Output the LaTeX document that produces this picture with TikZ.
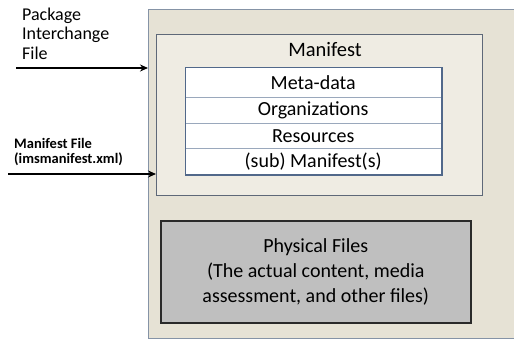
\documentclass[tikz,border=0pt]{standalone}
\usepackage{fontspec}
\setmainfont{Carlito}
\usetikzlibrary{arrows.meta}
\definecolor{pkgfill}{HTML}{E6E2D5}
\definecolor{pkgedge}{HTML}{8593A6}
\definecolor{manfill}{HTML}{EFECE3}
\definecolor{manedge}{HTML}{5E6878}
\definecolor{tabedge}{HTML}{51688A}
\definecolor{tabrule}{HTML}{9AA8BC}
\definecolor{physfill}{HTML}{BFBFBF}
\definecolor{physedge}{HTML}{2A2A2A}
\tikzset{
  box/.style={draw, rectangle, anchor=north west, inner sep=0pt},
  cell/.style={rectangle, anchor=north west, inner sep=0pt, minimum width=256pt, font=\fontsize{20}{22}\selectfont},
  feed/.style={draw=black, line width=1.8pt, -{Stealth[length=8pt,width=7pt]}},
  lbl/.style={anchor=base west, inner sep=0pt, align=left}
}
\begin{document}
\begin{tikzpicture}[x=1pt,y=-1pt]
\useasboundingbox (0,0) rectangle (514,341);
% package interchange container
\node[box, fill=pkgfill, draw=pkgedge, line width=1pt, minimum width=372pt, minimum height=329pt] (pkg) at (148,9) {};
% manifest container
\node[box, fill=manfill, draw=manedge, line width=1pt, minimum width=326pt, minimum height=161pt] (man) at (156,34) {};
\node[font=\fontsize{20.5}{22}\selectfont] (mantitle) at (325,50) {Manifest};
% manifest sections
\node[box, fill=white, draw=tabedge, line width=1pt, minimum width=256pt, minimum height=107pt] (tab) at (185,67) {};
\node[cell, minimum height=30pt] (meta) at (185,67) {Meta-data};
\node[cell, minimum height=26pt] (org) at (185,97) {Organizations};
\node[cell, minimum height=25pt] (res) at (185,123) {Resources};
\node[cell, minimum height=26pt] (sub) at (185,148) {(sub) Manifest(s)};
\draw[tabrule, line width=0.8pt] (meta.south west) -- (meta.south east);
\draw[tabrule, line width=0.8pt] (org.south west) -- (org.south east);
\draw[tabrule, line width=0.8pt] (res.south west) -- (res.south east);
\draw[tabedge, line width=1pt] (tab.north west) rectangle (tab.south east);
% physical files
\node[box, fill=physfill, draw=physedge, line width=1.5pt, minimum width=310pt, minimum height=102pt] (phys) at (160,220) {};
\node[align=center, font=\fontsize{20}{25}\selectfont] (physlbl) at (phys.center) {Physical Files\\(The actual content, media\\assessment, and other files)};
% incoming files (base anchor sits on the last line)
\node[lbl, font=\fontsize{18}{19.5}\selectfont] (pkglbl) at (22,59) {Package\\Interchange\\File};
\node[lbl, font=\bfseries\fontsize{14.5}{15}\selectfont] (manlbl) at (14,163) {Manifest File\\(imsmanifest.xml)};
\coordinate (pkgsrc) at (16,68);
\coordinate (mansrc) at (8,174);
\draw[feed] (pkgsrc) -- (pkgsrc -| pkg.west);
\draw[feed] (mansrc) -- (mansrc -| man.west);
\end{tikzpicture}
\end{document}
